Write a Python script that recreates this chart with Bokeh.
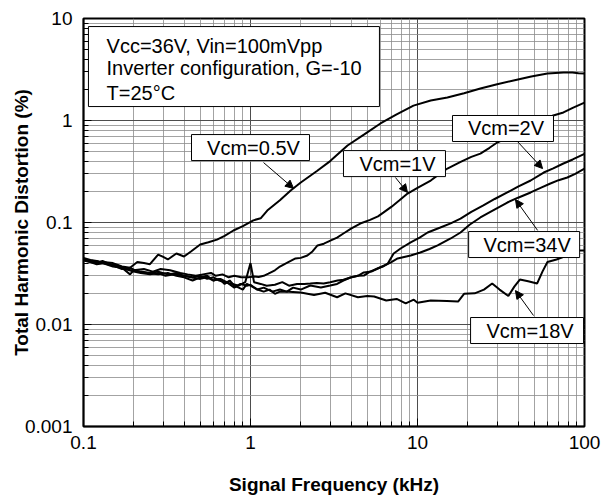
from bokeh.plotting import figure
from bokeh.models import FixedTicker, CustomJSTickFormatter, Arrow, NormalHead, ColumnDataSource
from bokeh.core.properties import value
from bokeh.embed import file_html
from bokeh.resources import INLINE

# ---------------- data (frequency in kHz, THD in %) ----------------
f_05 = [0.1, 0.115, 0.13, 0.15, 0.17, 0.19, 0.21, 0.23, 0.25, 0.28, 0.3, 0.32, 0.36, 0.4, 0.44,
        0.5, 0.56, 0.63, 0.7, 0.79, 0.9, 1.04, 1.15, 1.26, 1.5, 1.74, 2.0, 2.5, 3.0, 3.81, 4.8,
        6.0, 7.5, 9.46, 12.0, 15.1, 19, 23.8, 30, 37.6, 48, 60, 74.8, 84.7, 92, 100]
thd_05 = [0.0434, 0.042, 0.041, 0.040, 0.037, 0.036, 0.041, 0.040, 0.039, 0.0485, 0.046, 0.0434,
          0.0497, 0.0464, 0.052, 0.0608, 0.064, 0.068, 0.074, 0.0835, 0.092, 0.105, 0.11, 0.131,
          0.165, 0.206, 0.247, 0.32, 0.40, 0.569, 0.73, 0.935, 1.15, 1.40, 1.57, 1.68, 1.85,
          2.06, 2.27, 2.47, 2.7, 2.89, 2.96, 2.96, 2.9, 2.89]

f_1 = [0.1, 0.11, 0.12, 0.135, 0.15, 0.17, 0.19, 0.2, 0.23, 0.26, 0.29, 0.33, 0.38, 0.42, 0.47,
       0.52, 0.58, 0.62, 0.68, 0.74, 0.8, 0.88, 0.97, 1.05, 1.12, 1.2, 1.28, 1.4, 1.5, 1.62, 1.74,
       1.86, 2.0, 2.19, 2.35, 2.52, 2.75, 3.03, 3.3, 3.6, 4.0, 4.54, 5.2, 5.8, 6.24, 7.0, 7.8,
       8.72, 10, 12.0, 13.5, 15.1, 18, 21, 23.8, 27, 30, 36, 42, 47.6, 55, 65, 74.8, 85, 100]
thd_1 = [0.0425, 0.041, 0.039, 0.040, 0.038, 0.036, 0.034, 0.034, 0.035, 0.033, 0.035, 0.034,
         0.032, 0.031, 0.030, 0.031, 0.032, 0.030, 0.031, 0.029, 0.030, 0.029, 0.029, 0.0295,
         0.0292, 0.030, 0.0316, 0.034, 0.037, 0.0396, 0.042, 0.0444, 0.045, 0.0475, 0.052,
         0.0596, 0.062, 0.0667, 0.071, 0.078, 0.087, 0.0977, 0.106, 0.115, 0.125, 0.143, 0.165,
         0.192, 0.218, 0.258, 0.298, 0.338, 0.39, 0.44, 0.474, 0.54, 0.608, 0.70, 0.80, 0.893,
         1.0, 1.12, 1.20, 1.33, 1.5]

f_2 = [0.1, 0.11, 0.12, 0.13, 0.15, 0.17, 0.19, 0.2, 0.22, 0.25, 0.28, 0.32, 0.36, 0.4, 0.45,
       0.5, 0.55, 0.6, 0.65, 0.7, 0.78, 0.85, 0.93, 1.0, 1.05, 1.15, 1.25, 1.4, 1.55, 1.7, 1.9,
       2.1, 2.28, 2.5, 2.74, 3.0, 3.32, 3.6, 3.97, 4.4, 4.77, 5.2, 5.77, 6.2, 6.64, 7.2, 7.92,
       9.1, 10.3, 11.5, 13.7, 15.8, 18.1, 21, 24.8, 29, 34.5, 40, 47.6, 57, 65, 74.8, 85, 100]
thd_2 = [0.045, 0.043, 0.042, 0.040, 0.037, 0.036, 0.031, 0.034, 0.033, 0.032, 0.033, 0.031,
         0.032, 0.030, 0.029, 0.030, 0.028, 0.029, 0.027, 0.026, 0.025, 0.024, 0.026, 0.040,
         0.026, 0.025, 0.024, 0.0245, 0.026, 0.024, 0.025, 0.025, 0.0252, 0.0255, 0.0252,
         0.026, 0.027, 0.0275, 0.0289, 0.030, 0.0302, 0.033, 0.0354, 0.037, 0.0396, 0.0497,
         0.0556, 0.0637, 0.071, 0.0798, 0.0893, 0.098, 0.109, 0.127, 0.147, 0.17, 0.197, 0.225,
         0.258, 0.309, 0.34, 0.379, 0.415, 0.47]

f_34 = [0.1, 0.11, 0.125, 0.14, 0.16, 0.18, 0.2, 0.22, 0.25, 0.28, 0.31, 0.35, 0.4, 0.44, 0.5,
        0.55, 0.6, 0.66, 0.72, 0.8, 0.87, 0.95, 1.0, 1.1, 1.2, 1.35, 1.5, 1.65, 1.8, 2.0, 2.28,
        2.64, 3.0, 3.3, 3.6, 3.97, 4.4, 4.77, 5.3, 5.77, 6.9, 7.6, 9.1, 10.4, 11.8, 13.2, 15.8,
        18.1, 20.5, 23.8, 28, 34.5, 40, 47.6, 55, 62.5, 70, 78.9, 88, 100]
thd_34 = [0.044, 0.042, 0.041, 0.039, 0.038, 0.035, 0.033, 0.032, 0.031, 0.032, 0.030, 0.031,
          0.030, 0.029, 0.028, 0.029, 0.027, 0.028, 0.026, 0.023, 0.025, 0.024, 0.0245, 0.022,
          0.023, 0.021, 0.022, 0.021, 0.023, 0.022, 0.0241, 0.0231, 0.0241, 0.025, 0.027,
          0.0289, 0.030, 0.0324, 0.033, 0.0354, 0.0405, 0.0444, 0.0475, 0.0508, 0.055, 0.0596,
          0.0697, 0.0798, 0.095, 0.112, 0.13, 0.157, 0.175, 0.197, 0.22, 0.241, 0.26, 0.276,
          0.30, 0.338]

f_18 = [0.1, 0.11, 0.12, 0.13, 0.15, 0.17, 0.19, 0.21, 0.24, 0.28, 0.32, 0.36, 0.4, 0.45, 0.5,
        0.55, 0.6, 0.65, 0.7, 0.75, 0.8, 0.85, 0.9, 0.95, 1.0, 1.1, 1.2, 1.3, 1.4, 1.5, 1.7, 2.0,
        2.4, 2.8, 3.3, 3.7, 4.4, 5.0, 5.5, 6.5, 7.5, 8.5, 9.5, 10, 12, 15, 17.5, 19, 22, 25, 28,
        31, 35, 38, 41, 46, 52, 56, 60, 68, 75, 84, 100]
thd_18 = [0.043, 0.041, 0.040, 0.042, 0.038, 0.035, 0.036, 0.033, 0.032, 0.031, 0.032, 0.030,
          0.029, 0.027, 0.029, 0.030, 0.027, 0.028, 0.025, 0.027, 0.024, 0.023, 0.022, 0.025,
          0.024, 0.022, 0.021, 0.022, 0.020, 0.021, 0.021, 0.0206, 0.0195, 0.0205, 0.0185,
          0.0202, 0.0185, 0.019, 0.0188, 0.0172, 0.0178, 0.0161, 0.0175, 0.0163, 0.0172, 0.017,
          0.0168, 0.020, 0.0202, 0.022, 0.0252, 0.022, 0.019, 0.0235, 0.0276, 0.0265, 0.0252,
          0.033, 0.041, 0.0434, 0.046, 0.053, 0.053]

x_major = [0.1, 1, 10, 100]
y_major = [0.001, 0.01, 0.1, 1, 10]

info_lines = ["Vcc=36V, Vin=100mVpp", "Inverter configuration, G=-10", "T=25°C"]

curve_labels = ["Vcm=0.5V", "Vcm=1V", "Vcm=2V", "Vcm=34V", "Vcm=18V"]

# ---------------- annotation placement (data coords) ----------------
label_x = [1.0, 7.28, 32.5, 43.5, 45.3]
label_y = [0.543, 0.378, 0.835, 0.0608, 0.00873]
label_w = [118, 102, 101, 111, 113]
arrow_x0 = [1.197, 7.38, 39.7, 52.4, 49.5]
arrow_y0 = [0.387, 0.276, 0.622, 0.0836, 0.01225]
arrow_x1 = [1.81, 8.71, 56.1, 38.6, 38.6]
arrow_y1 = [0.216, 0.197, 0.338, 0.168, 0.0215]
info_box = (0.796, 3.38, 291, 80)
info_text_x = 0.1374
info_text_y = [5.43, 3.24, 1.84]

FONT = "Liberation Sans"

p = figure(width=603, height=500, x_axis_type="log", y_axis_type="log",
           x_range=(0.1, 100), y_range=(0.001, 10),
           output_backend="svg", toolbar_location=None,
           min_border_left=83, min_border_right=19, min_border_top=18, min_border_bottom=74,
           x_axis_label="Signal Frequency (kHz)", y_axis_label="Total Harmonic Distortion (%)")

x_minor = [m * 10.0 ** e for e in range(-1, 2) for m in range(2, 10)]
y_minor = [m * 10.0 ** e for e in range(-3, 1) for m in range(2, 10)]
p.xaxis.ticker = FixedTicker(ticks=x_major, minor_ticks=x_minor)
p.yaxis.ticker = FixedTicker(ticks=y_major, minor_ticks=y_minor)
p.xaxis.formatter = CustomJSTickFormatter(code="return tick.toString();")
p.yaxis.formatter = CustomJSTickFormatter(code="return tick.toString();")

for ax in (p.xaxis[0], p.yaxis[0]):
    ax.axis_line_color = "black"
    ax.axis_line_width = 1.5
    ax.major_tick_in = 8
    ax.major_tick_out = 0
    ax.minor_tick_in = 5
    ax.minor_tick_out = 0
    ax.major_tick_line_color = "black"
    ax.minor_tick_line_color = "black"
    ax.major_label_text_font = FONT
    ax.major_label_text_font_size = "19px"
    ax.major_label_text_color = "black"
    ax.axis_label_text_font = FONT
    ax.axis_label_text_font_size = "19px"
    ax.axis_label_text_font_style = "bold"
    ax.axis_label_text_color = "black"

p.xaxis.major_label_standoff = 9
p.xaxis.axis_label_standoff = 22
p.yaxis.major_label_standoff = 11
p.yaxis.axis_label_standoff = -10

for g in (p.xgrid[0], p.ygrid[0]):
    g.grid_line_color = "#4d4d4d"
    g.grid_line_width = 1
    g.minor_grid_line_color = "#8c8c8c"
    g.minor_grid_line_width = 0.8

p.outline_line_color = "black"
p.outline_line_width = 2
p.background_fill_color = "white"

for fx, ty in [(f_05, thd_05), (f_1, thd_1), (f_2, thd_2), (f_34, thd_34), (f_18, thd_18)]:
    p.line(fx, ty, line_color="black", line_width=2)

# info box
p.rect(x=[info_box[0]], y=[info_box[1]], width=[info_box[2]], height=[info_box[3]],
       width_units="screen", height_units="screen", fill_color="white",
       line_color="black", line_width=1)
p.text(x=[info_text_x] * 3, y=info_text_y, text=info_lines, text_font=value(FONT),
       text_font_size=value("20px"), text_align="left", text_baseline="middle",
       text_color="black")

# curve labels
lab_src = ColumnDataSource(dict(x=label_x, y=label_y, w=label_w, t=curve_labels))
p.rect(x="x", y="y", width="w", height=26, width_units="screen", height_units="screen",
       fill_color="white", line_color="black", line_width=1, source=lab_src)
p.text(x="x", y="y", text="t", x_offset=3, text_font=value(FONT),
       text_font_size=value("20px"), text_align="center", text_baseline="middle",
       text_color="black", source=lab_src)

for i in range(len(curve_labels)):
    p.add_layout(Arrow(end=NormalHead(size=8, fill_color="black", line_color="black", line_width=1),
                       x_start=arrow_x0[i], y_start=arrow_y0[i],
                       x_end=arrow_x1[i], y_end=arrow_y1[i],
                       line_color="black", line_width=1))

open("out.html", "w").write(file_html(p, INLINE))
